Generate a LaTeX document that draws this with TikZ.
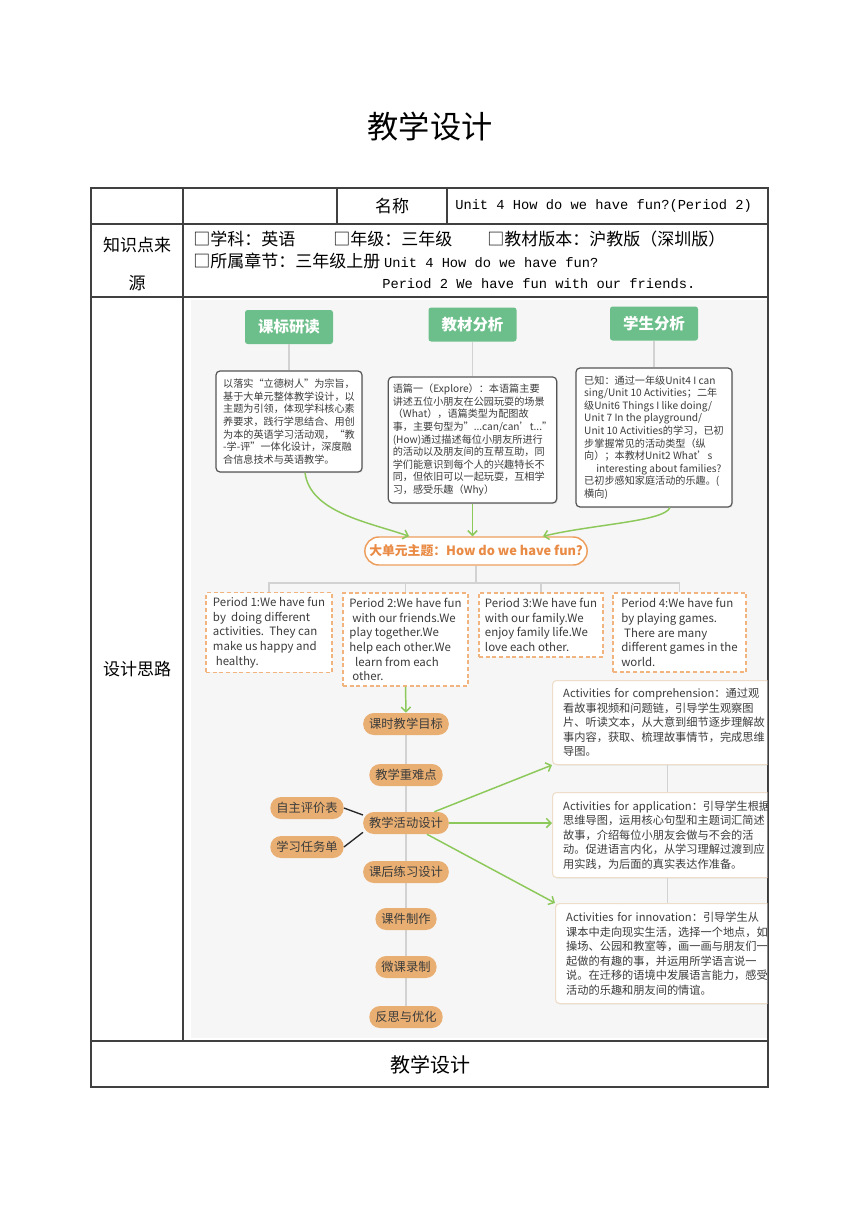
\documentclass[tikz,border=0pt]{standalone}
\usepackage{fontspec}
\setmainfont{Noto Sans CJK SC}
\newfontfamily\codefont{Liberation Mono}
\usepackage{xcolor}
\usepackage{tikz}
\usetikzlibrary{
  arrows.meta,
  positioning,
  calc,
  backgrounds,
  shadows
}
\definecolor{PanelGray}{HTML}{F6F6F6}
\definecolor{TableLine}{HTML}{404040}
\definecolor{HeadGreen}{HTML}{6CBF8A}
\definecolor{ArrowGreen}{HTML}{8CC85A}
\definecolor{PillOrange}{HTML}{E9AF72}
\definecolor{ThemeOrange}{HTML}{EE9E5C}
\definecolor{ThemeText}{HTML}{E98B45}
\definecolor{DashOrange}{HTML}{F2B47E}
\definecolor{TreeGray}{HTML}{D2D2D2}
\definecolor{NoteBorder}{HTML}{555555}
\definecolor{ActBorder}{HTML}{EEDDC8}
\definecolor{MapText}{HTML}{3C3C3C}
\newcommand{\latinpart}[1]{{\codefont\fontsize{10.3pt}{12pt}\selectfont #1}}
\tikzset{
  tableline/.style={
    draw=TableLine,
    line width=0.8pt
  },
  celltext/.style={
    inner sep=0pt,
    font=\fontsize{12.75pt}{15pt}\selectfont
  },
  heading/.style={
    fill=HeadGreen,
    rounded corners=2pt,
    minimum width=66pt,
    minimum height=25.5pt,
    text=white,
    font=\fontsize{11.6pt}{14pt}\selectfont\bfseries
  },
  notebox/.style={
    draw=NoteBorder,
    line width=0.9pt,
    fill=white,
    rounded corners=3pt,
    align=left,
    text=MapText,
    font=\fontsize{7.6pt}{9.45pt}\selectfont,
    drop shadow={opacity=0.15, shadow xshift=0.8pt, shadow yshift=-0.8pt}
  },
  theme/.style={
    draw=ThemeOrange,
    line width=1.1pt,
    fill=white,
    rounded corners=10.5pt,
    minimum width=162pt,
    minimum height=21pt,
    text=ThemeText,
    font=\fontsize{9.6pt}{12pt}\selectfont\bfseries
  },
  period/.style={
    draw=DashOrange,
    dash pattern=on 3pt off 2pt,
    line width=0.9pt,
    fill=white,
    align=left,
    text=MapText,
    font=\fontsize{8.6pt}{11pt}\selectfont
  },
  stepnode/.style={
    fill=PillOrange,
    rounded corners=8pt,
    minimum height=16.5pt,
    inner xsep=4.5pt,
    inner ysep=0pt,
    text=MapText,
    font=\fontsize{9.2pt}{11pt}\selectfont
  },
  actbox/.style={
    draw=ActBorder,
    line width=0.8pt,
    fill=white,
    rounded corners=3pt,
    align=left,
    text width=156pt,
    inner xsep=8pt,
    anchor=north west,
    text=MapText,
    font=\fontsize{8.4pt}{10.9pt}\selectfont,
    drop shadow={opacity=0.12, shadow xshift=0.8pt, shadow yshift=-0.8pt}
  },
  connection/.style={
    -{Straight Barb[length=3.5pt, width=7pt]},
    draw=ArrowGreen,
    line width=1.1pt
  },
  treeline/.style={
    draw=TreeGray,
    line width=0.9pt
  },
  sidelink/.style={
    draw=black!85,
    line width=1pt
  }
}

\begin{document}
\begin{tikzpicture}[x=0.75pt, y=-0.75pt]

  \useasboundingbox (0,0) rectangle (860,1216);

  % table
  \node[font=\fontsize{23.4pt}{28pt}\selectfont] (title) at (430,127) {教学设计};

  \draw[tableline] (91,188) rectangle (768,1087);
  \draw[tableline] (91,224) -- (768,224);
  \draw[tableline] (91,297) -- (768,297);
  \draw[tableline] (91,1041) -- (768,1041);
  \draw[tableline] (183,188) -- (183,1041);
  \draw[tableline] (337,188) -- (337,224);
  \draw[tableline] (447,188) -- (447,224);

  \node[celltext] (namelabel) at (392,206) {名称};
  \node[celltext, anchor=west] (unitname) at (455,206) {\latinpart{Unit 4 How do we have fun?(Period 2)}};

  \node[
    celltext,
    align=center,
    font=\fontsize{12.75pt}{28.5pt}\selectfont
  ] (source) at (137,264) {知识点来\\源};

  \node[celltext, anchor=west] (subject) at (193,239) {□学科：英语};
  \node[celltext, anchor=west] (grade) at (333,239) {□年级：三年级};
  \node[celltext, anchor=west] (edition) at (487,239) {□教材版本：沪教版（深圳版）};
  \node[celltext, anchor=west] (chapter) at (193,261) {□所属章节：三年级上册 \latinpart{Unit 4 How do we have fun?}};
  \node[celltext, anchor=west] (lesson) at (382,284) {\latinpart{Period 2 We have fun with our friends.}};

  \node[celltext] (designlabel) at (137,669) {设计思路};
  \node[celltext, font=\fontsize{15pt}{18pt}\selectfont] (footer) at (430,1065) {教学设计};

  \begin{scope}[on background layer]
    \fill[PanelGray] (191,300) rectangle (767.4,1038);
  \end{scope}

  % analysis
  \node[heading] (standard) at (289,327) {课标研读};
  \node[heading] (textbook) at (472.5,324.5) {教材分析};
  \node[heading] (learner) at (654,323.5) {学生分析};

  \node[
    notebox,
    minimum width=109.5pt,
    minimum height=75.75pt
  ] (standardnote) at (289,421.5) {
    以落实“立德树人”为宗旨，\\
    基于大单元整体教学设计，以\\
    主题为引领，体现学科核心素\\
    养要求，践行学思结合、用创\\
    为本的英语学习活动观，“教\\
    -学-评”一体化设计，深度融\\
    合信息技术与英语教学。
  };

  \node[
    notebox,
    minimum width=125.25pt,
    minimum height=94.5pt
  ] (textbooknote) at (472.5,440) {
    语篇一（Explore）：本语篇主要\\
    讲述五位小朋友在公园玩耍的场景\\
    （What），语篇类型为配图故\\
    事，主要句型为"...can/can't..."\\
    (How)通过描述每位小朋友所进行\\
    的活动以及朋友间的互帮互助，同\\
    学们能意识到每个人的兴趣特长不\\
    同，但依旧可以一起玩耍，互相学\\
    习，感受乐趣（Why）
  };

  \node[
    notebox,
    minimum width=117pt,
    minimum height=104.25pt
  ] (learnernote) at (654,437.5) {
    已知：通过一年级Unit4 I can\\
    sing/Unit 10 Activities；二年\\
    级Unit6 Things I like doing/\\
    Unit 7 In the playground/\\
    Unit 10 Activities的学习，已初\\
    步掌握常见的活动类型（纵\\
    向）；本教材Unit2 What's\\
    \hspace*{1.2em}interesting about families?\\
    已初步感知家庭活动的乐趣。(\\
    横向)
  };

  \draw[treeline] (standard) -- (standardnote);
  \draw[treeline] (textbook) -- (textbooknote);
  \draw[treeline] (learner) -- (learnernote);

  % unit theme
  \node[theme] (theme) at (476,551) {大单元主题：How do we have fun?};

  \draw[connection]
  ($(standardnote.south)+(16,0)$) .. controls +(5,40) and +(-40,-14) ..
  ($(theme.north)+(-67,0)$);
  \draw[connection] (textbooknote.south) -- (textbooknote.south |- theme.north);
  \draw[connection]
  ($(learnernote.south)+(16,0)$) .. controls +(-6,14) and +(50,-12) ..
  ($(theme.north)+(67,0)$);

  \node[
    period,
    minimum width=94.5pt,
    minimum height=59.25pt
  ] (p1) at (269,632.5) {
    Period 1:We have fun\\
    by\ \ doing different\\
    activities.\ \ They can\\
    make us happy and\\
    \hspace*{0.25em}healthy.
  };

  \node[
    period,
    minimum width=93.75pt,
    minimum height=69.75pt
  ] (p2) at (405.5,639.5) {
    Period 2:We have fun\\
    \hspace*{0.25em}with our friends.We\\
    play together.We\\
    help each other.We\\
    \hspace*{0.5em}learn from each\\
    \hspace*{0.25em}other.
  };

  \node[
    period,
    minimum width=93pt,
    minimum height=48pt
  ] (p3) at (541,625) {
    Period 3:We have fun\\
    with our family.We\\
    enjoy family life.We\\
    love each other.
  };

  \node[
    period,
    minimum width=99.75pt,
    minimum height=59.25pt
  ] (p4) at (679.5,632.5) {
    Period 4:We have fun\\
    by playing games.\\
    \hspace*{0.25em}There are many\\
    different games in the\\
    world.
  };

  \coordinate (fork) at (476,583);
  \draw[treeline] (theme.south) -- (fork);
  \draw[treeline] (p1.north) |- (fork) -| (p4.north);
  \draw[treeline] (p2.north) -- (p2.north |- fork);
  \draw[treeline] (p3.north) -- (p3.north |- fork);

  % lesson steps
  \node[stepnode] (goal) at (406,724) {课时教学目标};
  \node[stepnode] (keypoint) at (406,775) {教学重难点};
  \node[stepnode] (activity) at (406,823) {教学活动设计};
  \node[stepnode] (homework) at (406,872) {课后练习设计};
  \node[stepnode] (courseware) at (406,919) {课件制作};
  \node[stepnode] (microclass) at (406,967) {微课录制};
  \node[stepnode] (reflect) at (406,1017) {反思与优化};

  \node[stepnode] (selfeval) at (307,808) {自主评价表};
  \node[stepnode] (tasksheet) at (307,847) {学习任务单};

  \begin{scope}[on background layer]
    \draw[treeline] (goal) -- (reflect);
  \end{scope}

  \draw[connection] (p2.south) -- (goal.north);
  \draw[sidelink] (selfeval.east) -- ([yshift=6pt]activity.west);
  \draw[sidelink] (tasksheet.east) -- ([yshift=-7pt]activity.west);

  \begin{scope}
    \clip (191,300) rectangle (767.4,1038);

    \node[actbox, minimum height=63pt] (comprehension) at (552,680) {
      Activities for comprehension：通过观\\
      看故事视频和问题链，引导学生观察图\\
      片、听读文本，从大意到细节逐步理解故\\
      事内容，获取、梳理故事情节，完成思维\\
      导图。
    };

    \node[actbox, minimum height=63.75pt] (application) at (552,792) {
      Activities for application：引导学生根据\\
      思维导图，运用核心句型和主题词汇简述\\
      故事，介绍每位小朋友会做与不会的活\\
      动。促进语言内化，从学习理解过渡到应\\
      用实践，为后面的真实表达作准备。
    };

    \node[actbox, minimum height=75pt] (innovation) at (555,903) {
      Activities for innovation：引导学生从\\
      课本中走向现实生活，选择一个地点，如\\
      操场、公园和教室等，画一画与朋友们一\\
      起做的有趣的事，并运用所学语言说一\\
      说。在迁移的语境中发展语言能力，感受\\
      活动的乐趣和朋友间的情谊。
    };

    \draw[treeline] (comprehension.south) -- (application.north);
    \draw[treeline] (application.south) -- (application.south |- innovation.north);
  \end{scope}

  \draw[connection] (activity) -- (comprehension.south west);
  \draw[connection] (activity.east) -- (activity.east -| application.west);
  \draw[connection] (activity) -- (innovation.north west);

\end{tikzpicture}
\end{document}
